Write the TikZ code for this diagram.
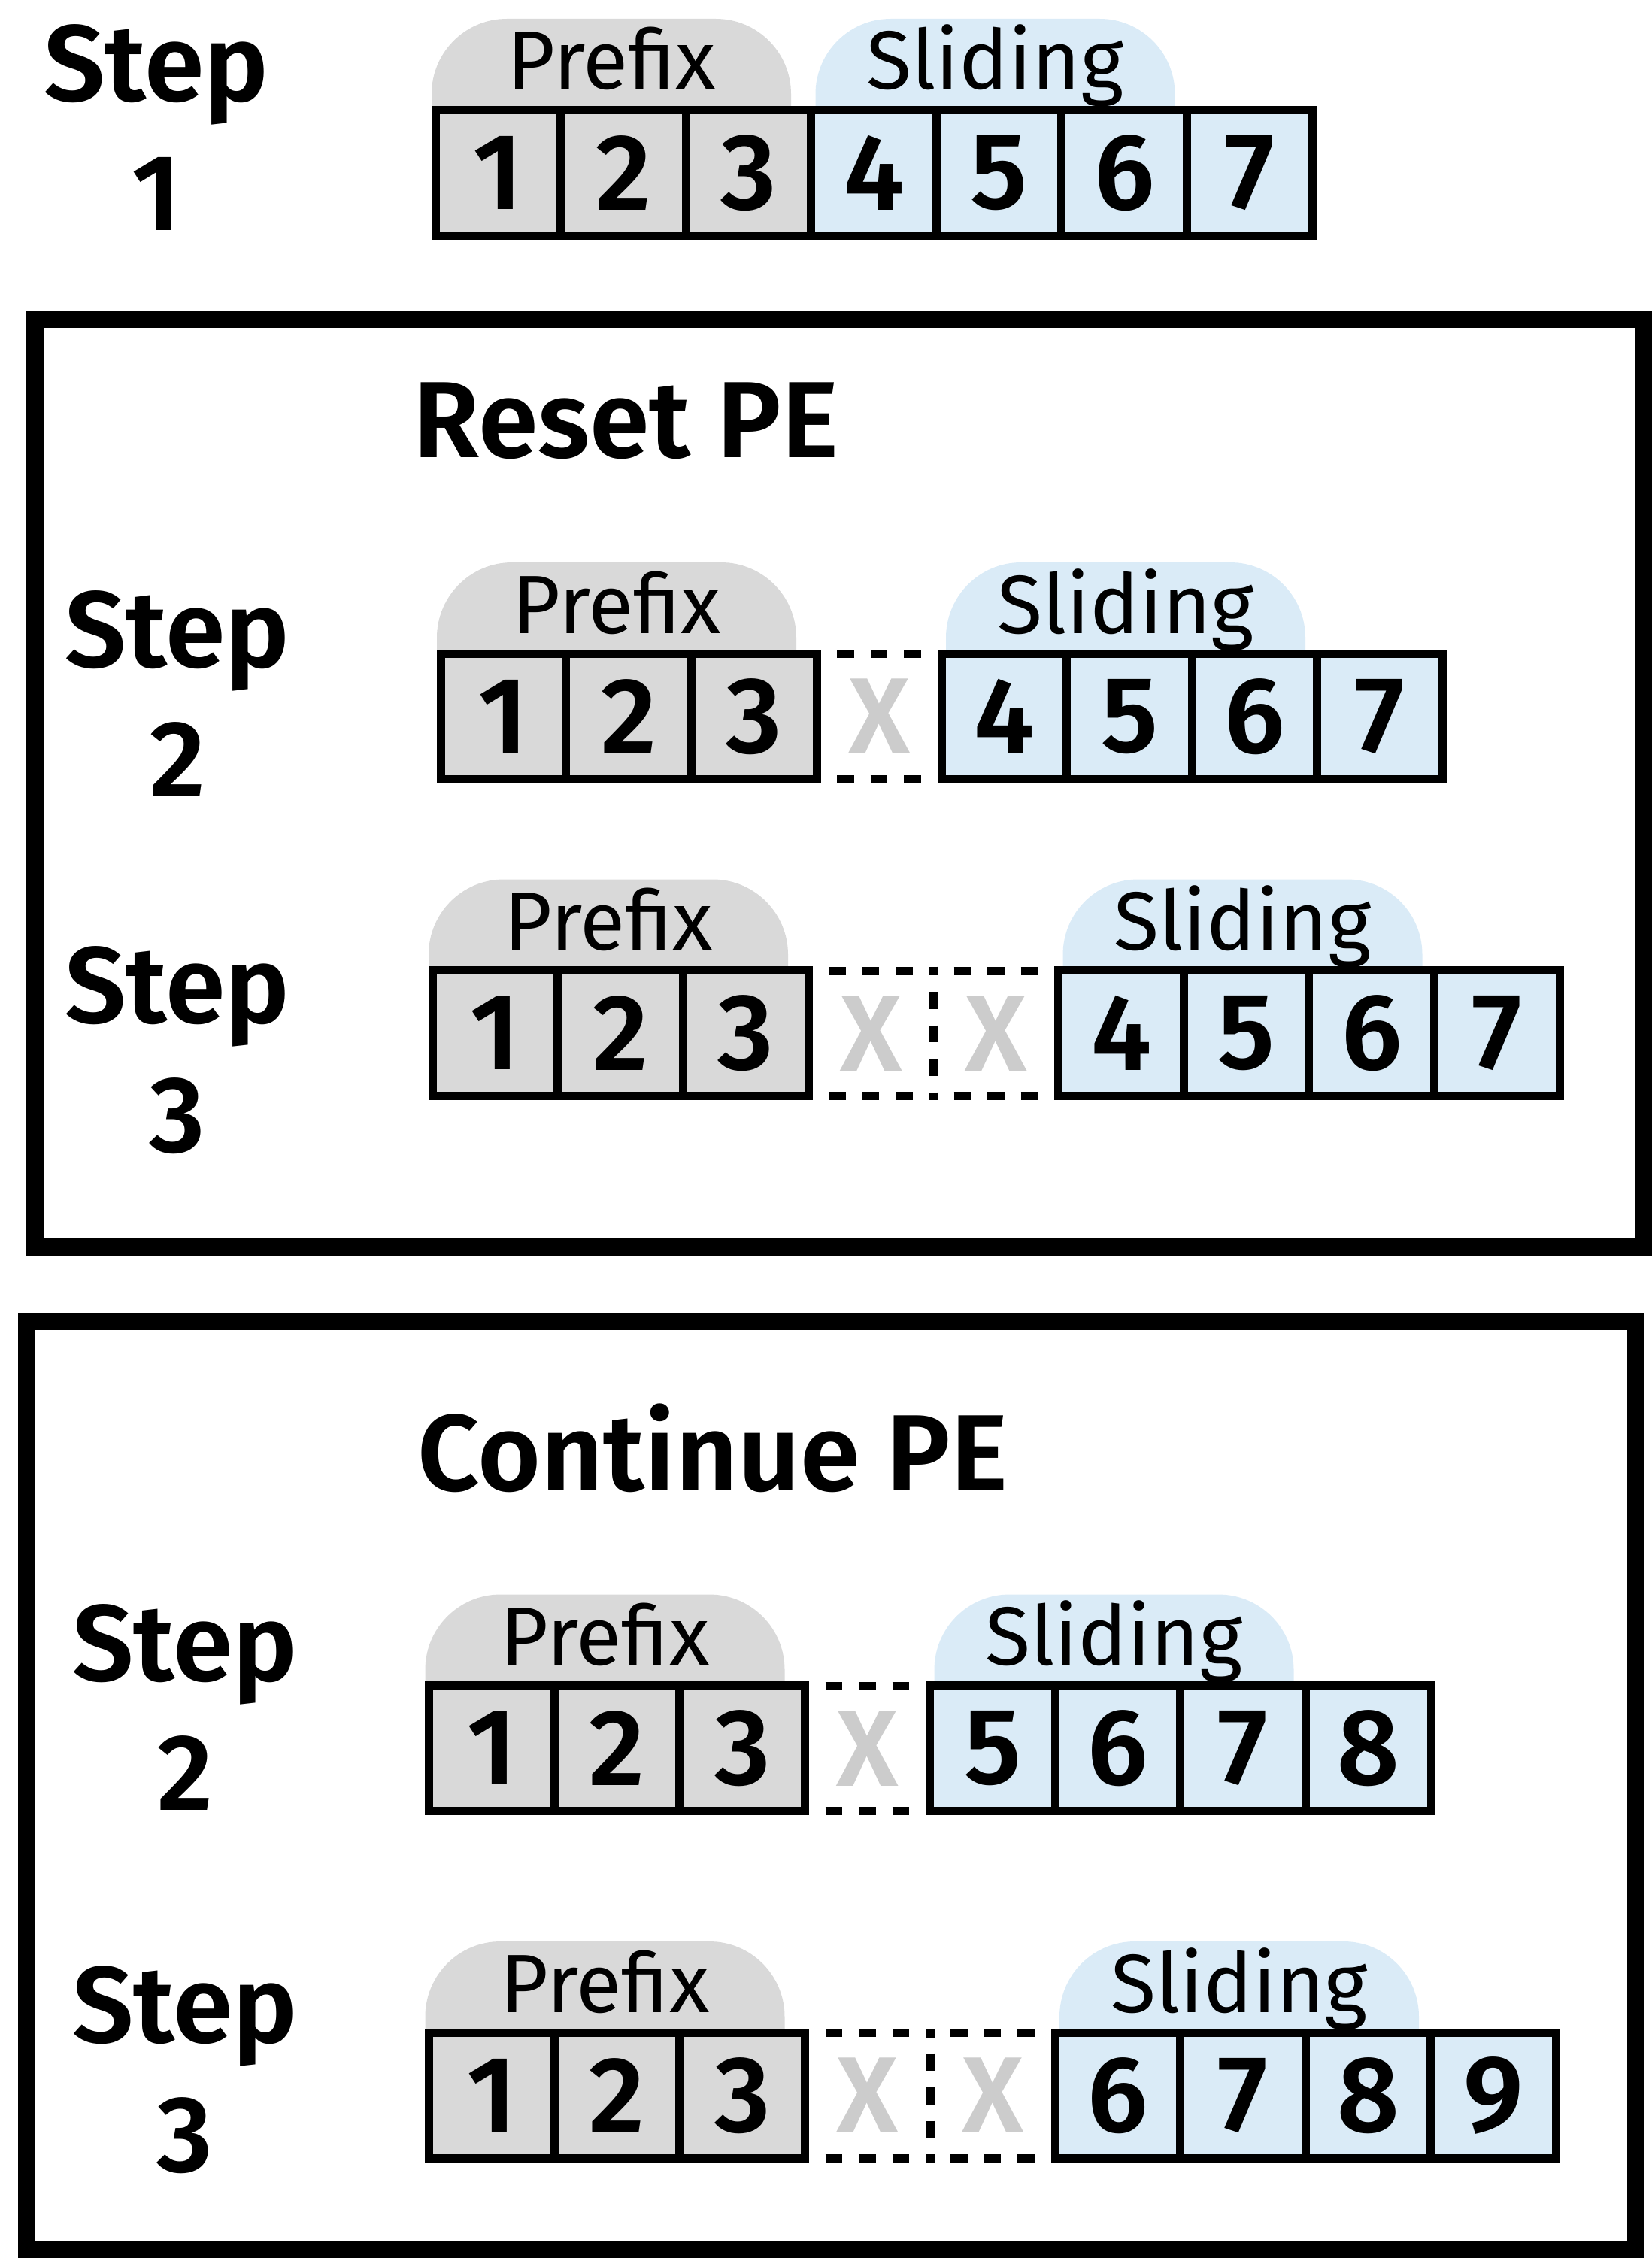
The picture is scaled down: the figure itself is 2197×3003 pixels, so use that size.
\documentclass[tikz,border=0pt]{standalone}
\usepackage{xcolor}
\usepackage{fontspec}
\setmainfont{Fira Sans}[BoldFont={Fira Sans SemiBold}]
\usepackage{tikz}

\definecolor{prefixgray}{HTML}{D9D9D9}
\definecolor{slideblue}{HTML}{DAEBF7}
\definecolor{xgray}{HTML}{CCCCCC}

\newcommand{\bigfont}{\fontsize{40.97pt}{48.65pt}\selectfont}
\newcommand{\tabfont}{\fontsize{31.3pt}{36pt}\selectfont}

\tikzset{
    cell/.style={draw, line width=0.11cm, minimum size=1.665cm, inner sep=0pt, font=\bigfont\bfseries},
    prefixcell/.style={cell, fill=prefixgray},
    slidecell/.style={cell, fill=slideblue},
    gapcell/.style={minimum size=1.665cm, inner sep=0pt, text=xgray, font=\bigfont\bfseries},
    tablabel/.style={anchor=base, inner sep=0pt, font=\tabfont},
    steplabel/.style={anchor=base, align=center, inner sep=0pt, font=\bigfont\bfseries},
    title/.style={anchor=base west, inner sep=0pt, font=\bigfont\bfseries},
    frame/.style={draw, line width=0.23cm},
    gapline/.style={line width=0.11cm, dash pattern=on 0.225cm off 0.22cm},
}

\begin{document}
\begin{tikzpicture}[x=0.01cm, y=-0.01cm]
    \useasboundingbox (0,0) rectangle (2197,3003);

    % Outer frames
    \draw[frame] (46.5,424.5) rectangle (2186.5,1658.5);
    \draw[frame] (35.5,1757.5) rectangle (2175,2991.5);

    % Frame titles
    \node[title] (reset) at (549,608) {Reset PE};
    \node[title] (continue) at (555,1982) {Continue PE};

    % Step labels (anchored on the number's baseline)
    \node[steplabel] (s1-lbl) at (208,306) {Step\\1};
    \node[steplabel] (r2-lbl) at (236,1059) {Step\\2};
    \node[steplabel] (r3-lbl) at (236,1532) {Step\\3};
    \node[steplabel] (c2-lbl) at (246,2407) {Step\\2};
    \node[steplabel] (c3-lbl) at (246,2888) {Step\\3};

    % Rows: name / left x / top y / masked slots / first sliding token
    \foreach \row/\xo/\yo/\nx/\first in {s1/579.5/146.5/0/4, r2/586.5/869.5/1/4, r3/575.5/1291/2/4, c2/571/2242/1/5, c3/571/2703.5/2/6} {
        \pgfmathsetmacro{\xb}{\xo+(3+\nx)*166.5}

        % Tabs above the cells
        \fill[prefixgray, rounded corners=1cm] (\xo-5.5,\yo+110) rectangle (\xo+472.5,\yo-121.5);
        \fill[slideblue, rounded corners=1cm] (\xb+5.5,\yo+110) rectangle (\xb+483.5,\yo-121.5);
        \node[tablabel] (\row-ptab) at (\xo+233.5,\yo-27.5) {Prefix};
        \node[tablabel] (\row-stab) at (\xb+244.5,\yo-27.5) {Sliding};

        % Dropped slots
        \ifnum\nx>0
            \foreach \k in {1,...,\nx} {
                \pgfmathsetmacro{\xg}{\xo+(2+\k)*166.5}
                \node[gapcell] (\row-x\k) at (\xg+83.25,\yo+83.25) {X};
                \draw[gapline] (\xg+27,\yo) -- (\xg+139.5,\yo);
                \draw[gapline] (\xg+27,\yo+166.5) -- (\xg+139.5,\yo+166.5);
            }
        \fi
        \ifnum\nx>1
            \draw[line width=0.11cm, dash pattern=on 0.115cm off 0.22cm on 0.225cm off 0.22cm on 0.225cm off 0.22cm on 0.225cm off 0.22cm on 0.115cm]
                (\xo+666,\yo-5.5) -- (\xo+666,\yo+172);
        \fi

        % Prefix cells
        \foreach \i in {1,2,3}
            \node[prefixcell] (\row-p\i) at (\xo+\i*166.5-83.25,\yo+83.25) {\i};

        % Sliding cells
        \foreach \j in {0,...,3} {
            \pgfmathtruncatemacro{\num}{\first+\j}
            \node[slidecell] (\row-w\j) at (\xb+\j*166.5+83.25,\yo+83.25) {\num};
        }
    }
\end{tikzpicture}
\end{document}
